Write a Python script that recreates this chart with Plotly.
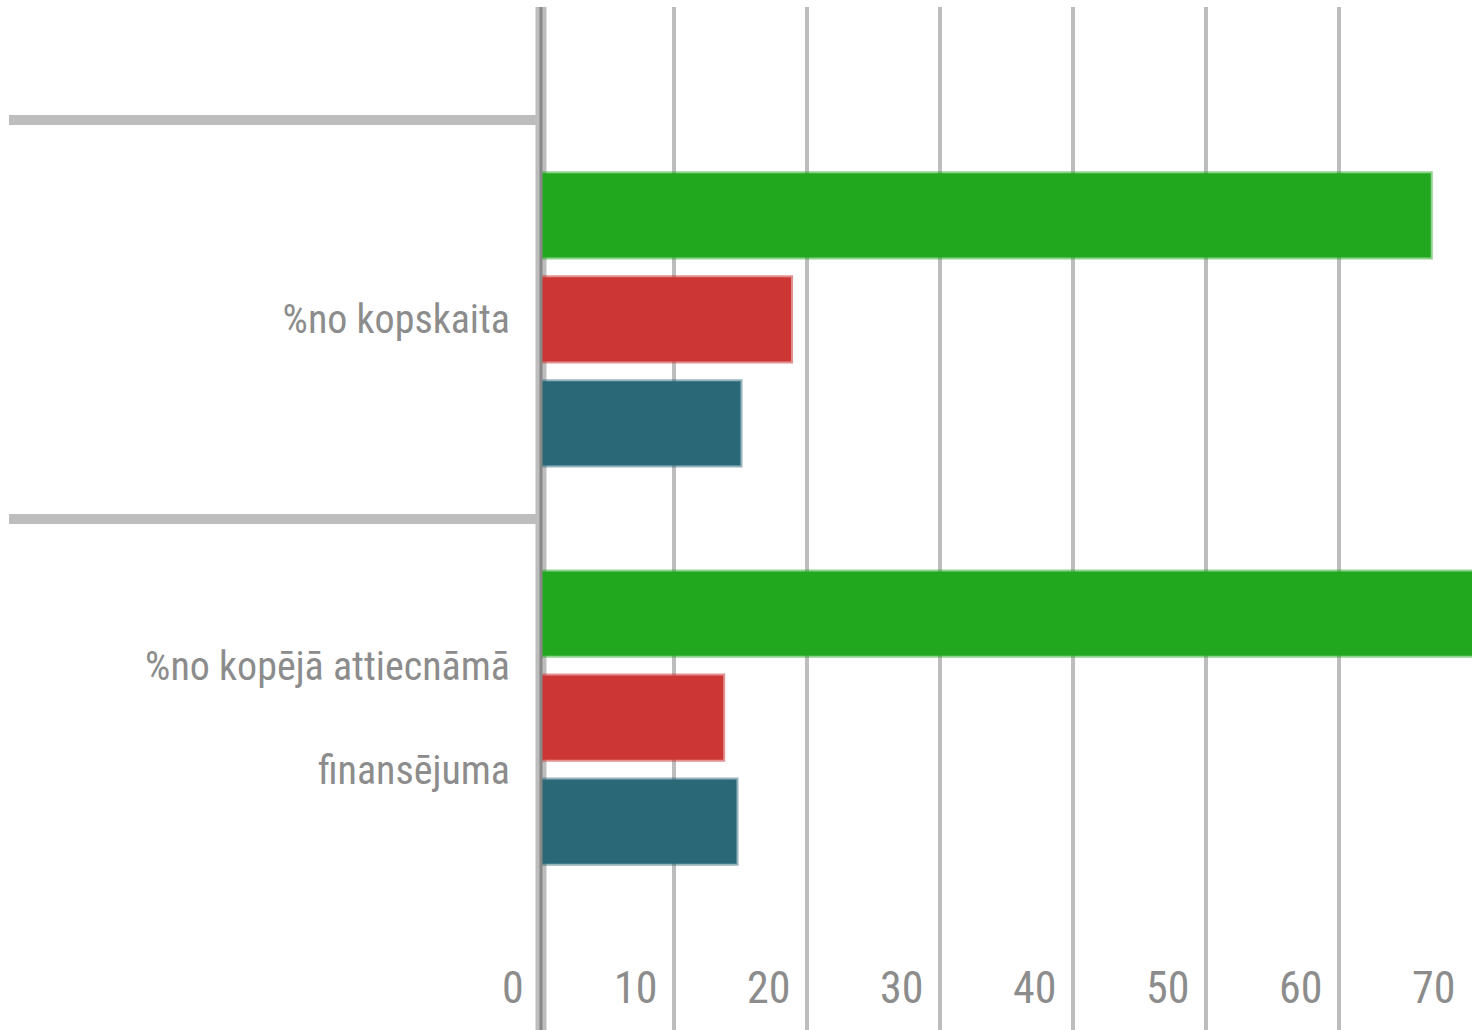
import plotly.graph_objects as go

categories = ["%no kopskaita", "%no kopējā attiecnāmā<br> <br>finansējuma"]
series_names = ["Sērija 1", "Sērija 2", "Sērija 3"]
green_vals = [66.9, 71.0]
red_vals = [18.8, 13.7]
teal_vals = [15.0, 14.7]
x_tick_vals = [0, 10, 20, 30, 40, 50, 60, 70]
x_tick_text = ["0", "10", "20", "30", "40", "50", "60", "70"]

colors = ["#22a81f", "#cc3735", "#2a6877"]
edge_colors = ["rgba(34,168,31,0.5)", "rgba(204,55,53,0.55)", "rgba(42,104,119,0.5)"]

FONT = "Roboto Condensed, Liberation Sans Narrow, DejaVu Sans Condensed, Roboto, sans-serif"
TEXT_COLOR = "#8c8c8c"

fig = go.Figure()
for name, vals, c, ec in zip(series_names, [green_vals, red_vals, teal_vals], colors, edge_colors):
    fig.add_trace(go.Bar(
        name=name, y=categories, x=vals, orientation="h",
        marker=dict(color=c, line=dict(color=ec, width=4)),
        showlegend=False,
    ))

# axis base line at value 0 (left edge of plot area)
fig.add_shape(type="line", xref="paper", yref="paper", x0=0, x1=0, y0=0, y1=1,
              line=dict(color="#bdbdbd", width=11), layer="below")
fig.add_shape(type="line", xref="paper", yref="paper", x0=0, x1=0, y0=0, y1=1,
              line=dict(color="#888888", width=3), layer="above")

# x tick labels placed inside the plot area, right-aligned to the left of each gridline
for v, t in zip(x_tick_vals, x_tick_text):
    fig.add_annotation(x=v, xref="x", y=0.041, yref="paper", text=t, showarrow=False,
                       xanchor="right", yanchor="middle", xshift=-15,
                       font=dict(family=FONT, size=44, color=TEXT_COLOR))

fig.update_layout(
    width=1473, height=1030,
    margin=dict(l=541, r=1, t=7, b=0, pad=0),
    paper_bgcolor="white", plot_bgcolor="white",
    barmode="group", bargap=0.217, bargroupgap=0.19,
    font=dict(family=FONT, color=TEXT_COLOR, size=40),
    xaxis=dict(
        range=[0, 70], tickvals=x_tick_vals,
        showgrid=True, gridcolor="#bdbdbd", gridwidth=4,
        zeroline=False, showline=False, ticks="", showticklabels=False,
    ),
    yaxis=dict(
        type="category", categoryorder="array", categoryarray=categories,
        range=[1.784, -0.784],
        showgrid=False, zeroline=False, showline=False,
        ticks="outside", tickson="boundaries", ticklen=531, tickwidth=10, tickcolor="#bdbdbd",
        ticklabelstandoff=30,
        tickfont=dict(family=FONT, size=40, color=TEXT_COLOR),
    ),
)

fig.write_html("out.html", config={"displayModeBar": False},
               post_script="document.body.style.margin='0';document.body.style.overflow='hidden';")
